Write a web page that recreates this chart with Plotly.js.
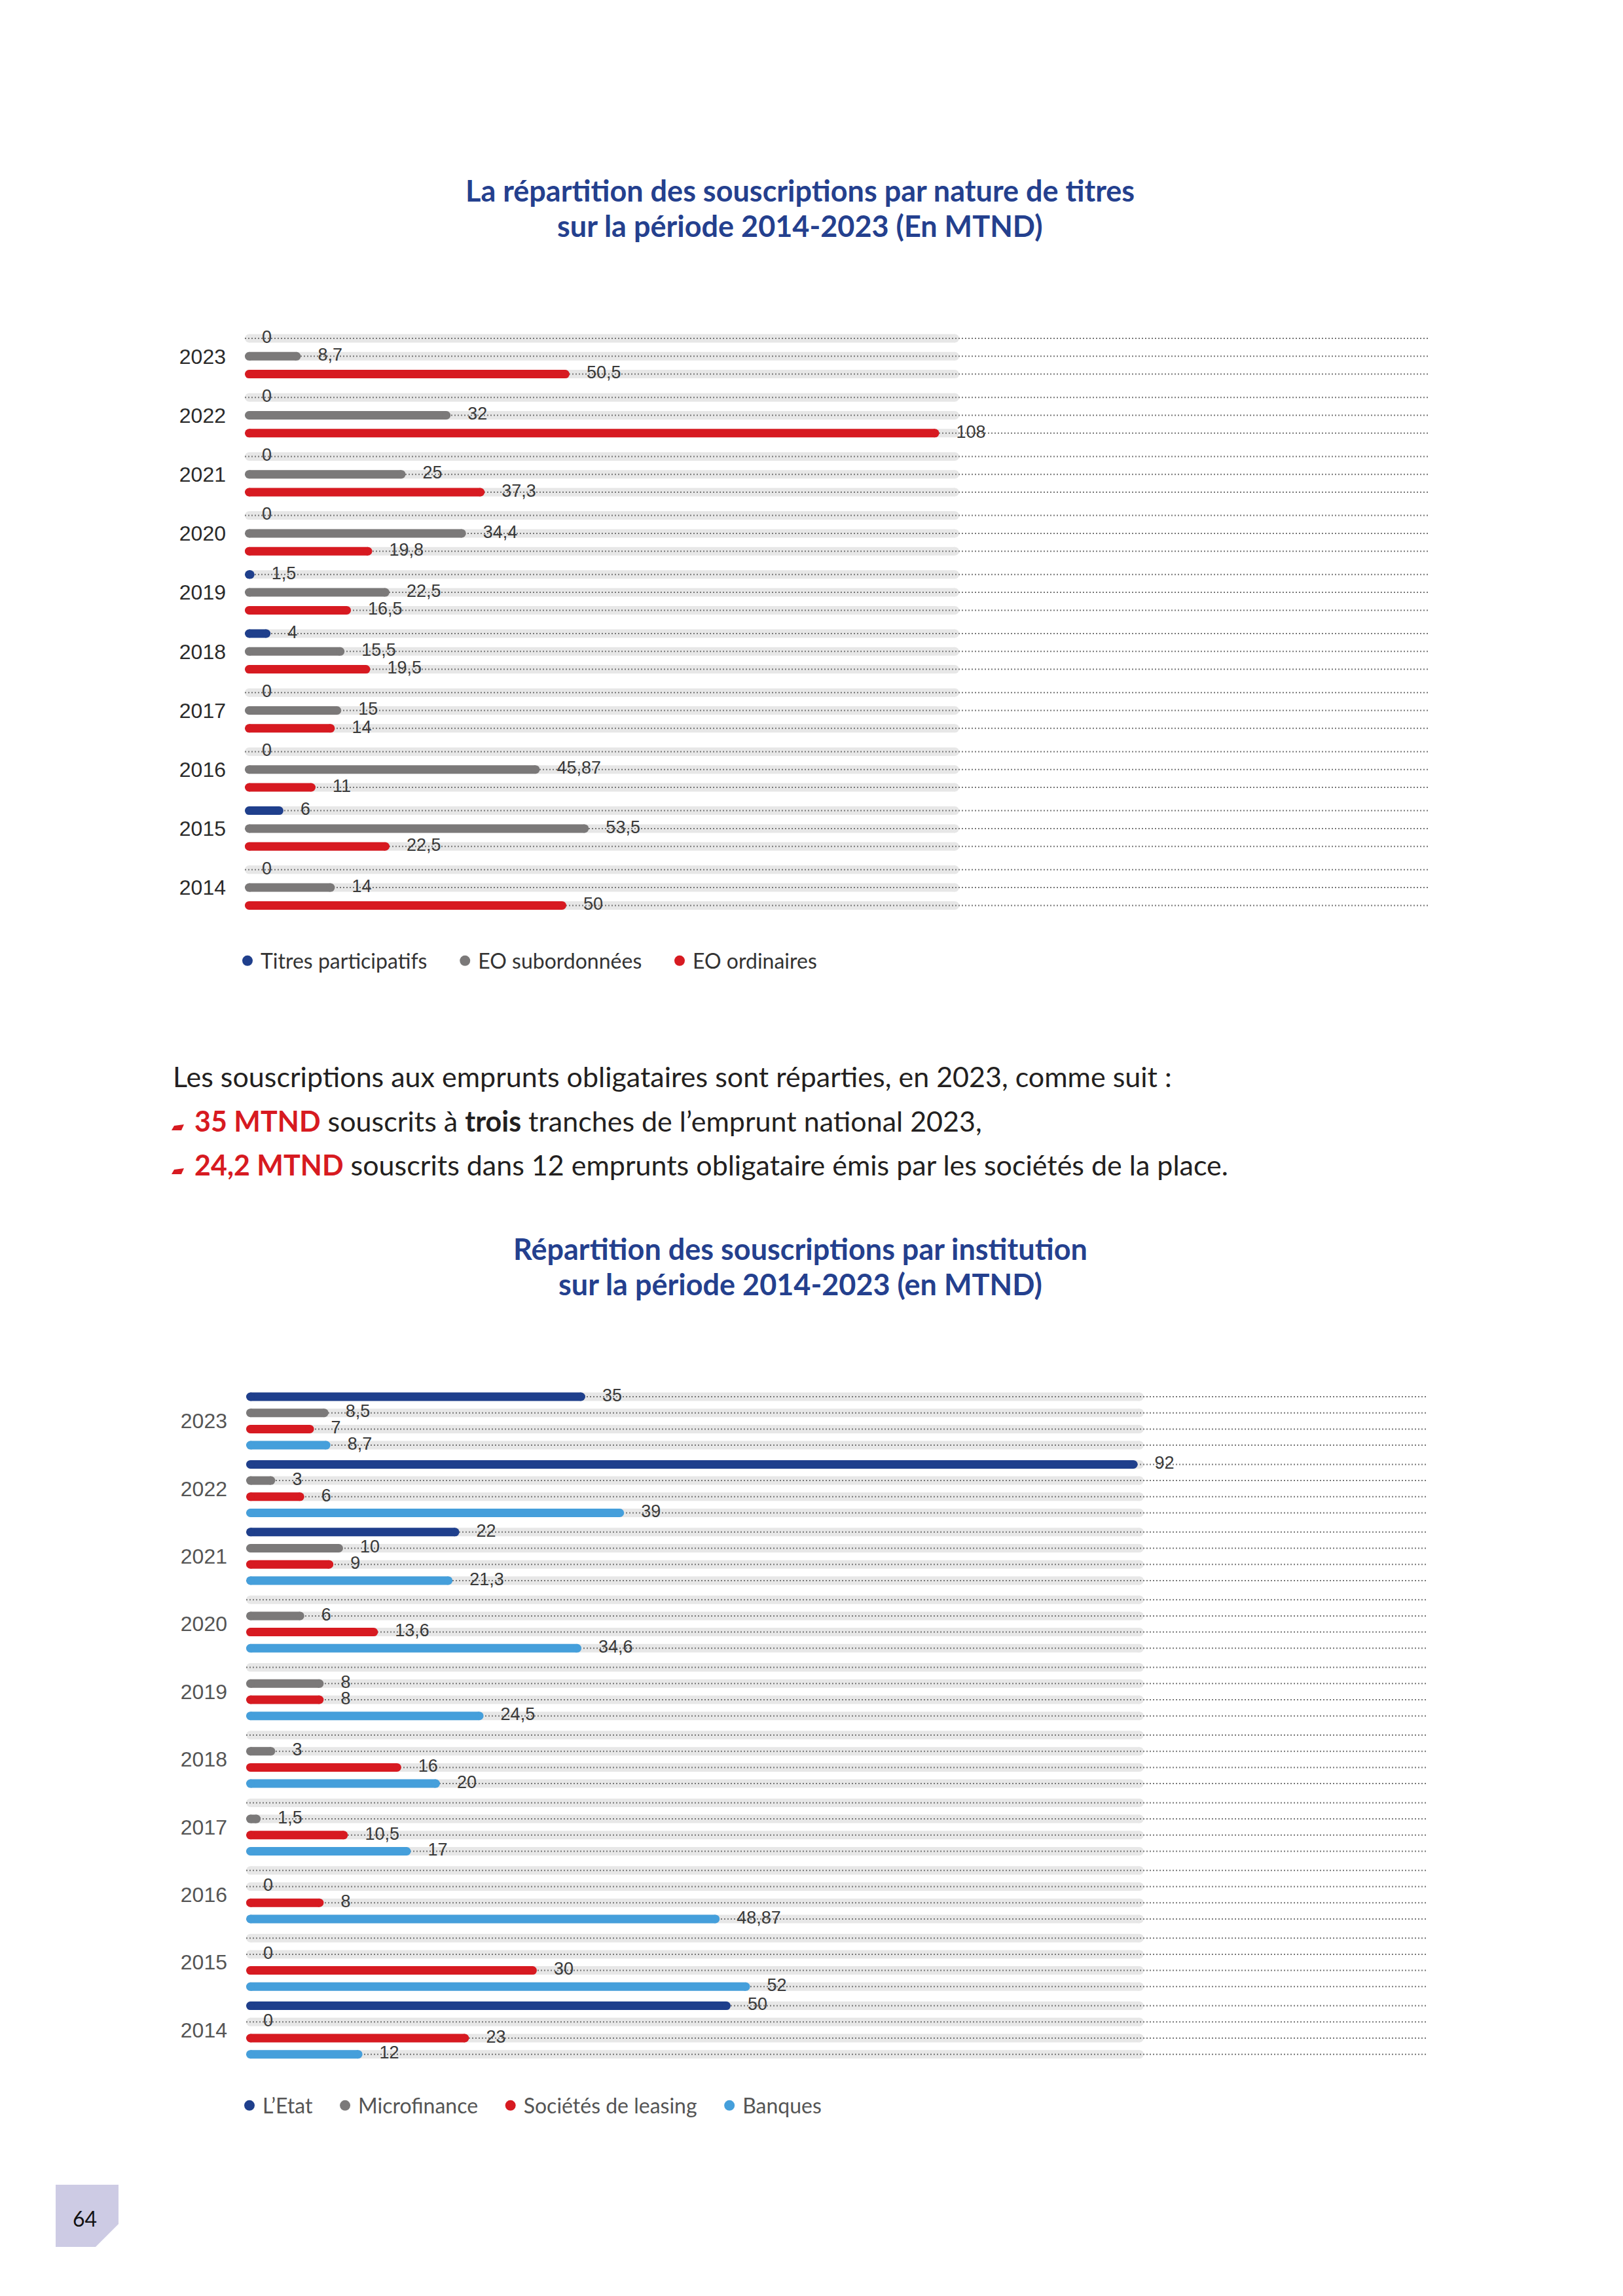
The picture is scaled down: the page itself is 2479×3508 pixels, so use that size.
<!DOCTYPE html>
<html>
<head>
<meta charset="utf-8">
<script src="https://cdn.plot.ly/plotly-3.0.1.min.js"></script>
<style>
html,body{margin:0;padding:0;background:#ffffff;}
#chart{width:2479px;height:3508px;}
</style>
</head>
<body>
<div id="chart"></div>
<script>
// ---------------- DATA ----------------
const years = ['2023','2022','2021','2020','2019','2018','2017','2016','2015','2014'];

// Chart 1 : souscriptions par nature de titres (MTND)
const natureSeries = ['Titres participatifs', 'EO subordonnées', 'EO ordinaires'];
const titresParticipatifs = [0, 0, 0, 0, 1.5, 4, 0, 0, 6, 0];
const eoSubordonnees      = [8.7, 32, 25, 34.4, 22.5, 15.5, 15, 45.87, 53.5, 14];
const eoOrdinaires        = [50.5, 108, 37.3, 19.8, 16.5, 19.5, 14, 11, 22.5, 50];

// Chart 2 : souscriptions par institution (MTND)
const institutionSeries = ['L\u2019Etat', 'Microfinance', 'Sociétés de leasing', 'Banques'];
const etat         = [35, 92, 22, null, null, null, null, null, null, 50];
const microfinance = [8.5, 3, 10, 6, 8, 3, 1.5, 0, 0, 0];
const leasing      = [7, 6, 9, 13.6, 8, 16, 10.5, 8, 30, 23];
const banques      = [8.7, 39, 21.3, 34.6, 24.5, 20, 17, 48.87, 52, 12];

// ---------------- STYLE / LAYOUT ----------------
const W = 2479, H = 3508;
const fx = p => p / W;
const fy = p => 1 - p / H;

const C = {
  blue: '#1f3f8c', gray: '#7b7979', red: '#d71a21', sky: '#459fdb',
  track: '#e7e7e7', dots: '#777777', title: '#24408e', text: '#231f20'
};
const BAR = 13;           // bar thickness in px
const LABEL_OFFSET = 40;  // transparent marker size used to offset value labels

const charts = [
  { names: natureSeries, values: [titresParticipatifs, eoSubordonnees, eoOrdinaires],
    colors: [C.blue, C.gray, C.red],
    x0: 374, x1: 2181, ppu: 9.82, trackEnd: 1465,
    yTop: 470, yBot: 1410, row0: 517, pitch: 90.2, step: 27.3,
    xa: 'x', ya: 'y', legend: 'legend', yearColor: '#2a2a2a', pad: 4 },
  { names: institutionSeries, values: [etat, microfinance, leasing, banques],
    colors: [C.blue, C.gray, C.red, C.sky],
    x0: 376, x1: 2181, ppu: 14.8, trackEnd: 1747,
    yTop: 2100, yBot: 3170, row0: 2134, pitch: 103.4, step: 24.7,
    xa: 'x2', ya: 'y2', legend: 'legend2', yearColor: '#555555', pad: 3 }
];

const fmt = v => String(v).replace('.', ',');

const traces = [];
const layout = {
  width: W, height: H,
  margin: {l: 0, r: 0, t: 0, b: 0},
  paper_bgcolor: '#ffffff', plot_bgcolor: 'rgba(0,0,0,0)',
  font: {family: 'Lato, "Open Sans", sans-serif', color: C.text},
  showlegend: true,
  annotations: [], shapes: []
};

charts.forEach((c, ci) => {
  const nRows = c.values.length;
  const rowY = (i, j) => c.row0 + i * c.pitch + j * c.step;
  const xmax = (c.x1 - c.x0) / c.ppu;
  const capU = (BAR / 2) / c.ppu;
  const trackMax = (c.trackEnd - c.x0) / c.ppu;
  const nb = '\u00a0'.repeat(c.pad);

  const tx = [], ty = [], dx = [], dy = [];
  years.forEach((yr, i) => {
    for (let j = 0; j < nRows; j++) {
      const y = rowY(i, j);
      tx.push(capU, trackMax - capU, null); ty.push(y, y, null);
      dx.push(0, xmax, null); dy.push(y, y, null);
    }
  });
  traces.push({type: 'scatter', mode: 'lines+markers', x: tx, y: ty, xaxis: c.xa, yaxis: c.ya,
    line: {color: C.track, width: BAR}, marker: {color: C.track, size: BAR, line: {width: 0}},
    showlegend: false, hoverinfo: 'skip'});
  traces.push({type: 'scatter', mode: 'lines', x: dx, y: dy, xaxis: c.xa, yaxis: c.ya,
    line: {color: C.dots, width: 2, dash: '2px,3px'}, showlegend: false, hoverinfo: 'skip'});

  c.values.forEach((arr, j) => {
    const bx = [], by = [], lx = [], ly = [], lt = [];
    arr.forEach((v, i) => {
      if (v === null || v === undefined) return;
      const y = rowY(i, j);
      lx.push(v); ly.push(y); lt.push(fmt(v));
      if (v > 0) {
        if (v > 2 * capU) bx.push(capU, v - capU, null);
        else bx.push(v / 2, v / 2, null);
        by.push(y, y, null);
      }
    });
    traces.push({type: 'scatter', mode: 'lines+markers', x: bx, y: by, xaxis: c.xa, yaxis: c.ya,
      line: {color: c.colors[j], width: BAR}, marker: {color: c.colors[j], size: BAR, line: {width: 0}},
      showlegend: false, hoverinfo: 'skip'});
    traces.push({type: 'scatter', mode: 'markers+text', x: lx, y: ly, xaxis: c.xa, yaxis: c.ya,
      text: lt, textposition: 'middle right',
      textfont: {family: '"Liberation Sans", Arial, sans-serif', size: 27, color: '#3a3a3a'},
      marker: {size: LABEL_OFFSET, color: 'rgba(0,0,0,0)'}, showlegend: false, hoverinfo: 'skip'});
    traces.push({type: 'scatter', mode: 'markers', x: [null], y: [null], xaxis: c.xa, yaxis: c.ya,
      name: c.names[j] + nb, legend: c.legend, showlegend: true,
      marker: {color: c.colors[j], size: 18}, hoverinfo: 'skip'});
  });

  const axNum = ci === 0 ? '' : '2';
  const mid = (nRows - 1) / 2;
  layout['xaxis' + axNum] = {domain: [fx(c.x0), fx(c.x1)], range: [0, xmax], anchor: c.ya,
    visible: false, fixedrange: true};
  layout['yaxis' + axNum] = {domain: [fy(c.yBot), fy(c.yTop)], range: [c.yBot, c.yTop], anchor: c.xa,
    tickvals: years.map((yr, i) => rowY(i, mid)), ticktext: years,
    tickfont: {family: '"Liberation Sans", Arial, sans-serif', size: 32, color: c.yearColor},
    showgrid: false, zeroline: false, showline: false, ticks: '', ticklabelstandoff: 28, fixedrange: true};
});

layout.legend = {x: fx(358), y: fy(1468), xanchor: 'left', yanchor: 'middle', orientation: 'h',
  font: {family: 'Lato, sans-serif', size: 32, color: '#333333'}, bgcolor: 'rgba(0,0,0,0)', itemwidth: 30};
layout.legend2 = {x: fx(361), y: fy(3217), xanchor: 'left', yanchor: 'middle', orientation: 'h',
  font: {family: 'Lato, sans-serif', size: 32, color: '#555555'}, bgcolor: 'rgba(0,0,0,0)', itemwidth: 30};

function ann(text, x, y, opts) {
  return Object.assign({text: text, x: fx(x), y: fy(y), xref: 'paper', yref: 'paper',
    showarrow: false, xanchor: 'center', yanchor: 'middle'}, opts || {});
}
const titleFont = {family: 'Lato, sans-serif', size: 45, color: C.title};
layout.annotations.push(
  ann('<b>La répartition des souscriptions par nature de titres</b>', 1222, 291, {font: titleFont}),
  ann('<b>sur la période 2014-2023 (En MTND)</b>', 1222, 345, {font: titleFont}),
  ann('<b>Répartition des souscriptions par institution</b>', 1222, 1908, {font: titleFont}),
  ann('<b>sur la période 2014-2023 (en MTND)</b>', 1222, 1962, {font: titleFont})
);
const paraFont = {family: 'Lato, sans-serif', size: 43, color: C.text};
const red = s => '<span style="color:' + C.red + '"><b>' + s + '</b></span>';
layout.annotations.push(
  ann('Les souscriptions aux emprunts obligataires sont réparties, en 2023, comme suit :', 262, 1644, {xanchor: 'left', font: paraFont}),
  ann(red('35 MTND') + ' souscrits à <b>trois</b> tranches de l\u2019emprunt national 2023,', 295, 1712, {xanchor: 'left', font: paraFont}),
  ann(red('24,2 MTND') + ' souscrits dans 12 emprunts obligataire émis par les sociétés de la place.', 295, 1779, {xanchor: 'left', font: paraFont}),
  ann('64', 129, 3389, {font: {family: 'Lato, sans-serif', size: 32, color: '#111111'}})
);

function pathPx(pts) {
  return 'M ' + pts.map(p => fx(p[0]) + ',' + fy(p[1])).join(' L ') + ' Z';
}
// bullets
[1712, 1779].forEach(cy => {
  layout.shapes.push({type: 'path', xref: 'paper', yref: 'paper',
    path: pathPx([[262, cy + 15], [277, cy + 15], [281, cy + 6], [266, cy + 8]]),
    fillcolor: C.red, line: {width: 0}});
});
// page number tab
layout.shapes.push({type: 'path', xref: 'paper', yref: 'paper',
  path: pathPx([[85, 3338], [181, 3338], [181, 3398], [146, 3433], [85, 3433]]),
  fillcolor: '#cdcbe4', line: {width: 0}, layer: 'below'});

Plotly.newPlot('chart', traces, layout, {staticPlot: true, displayModeBar: false});
</script>
</body>
</html>
